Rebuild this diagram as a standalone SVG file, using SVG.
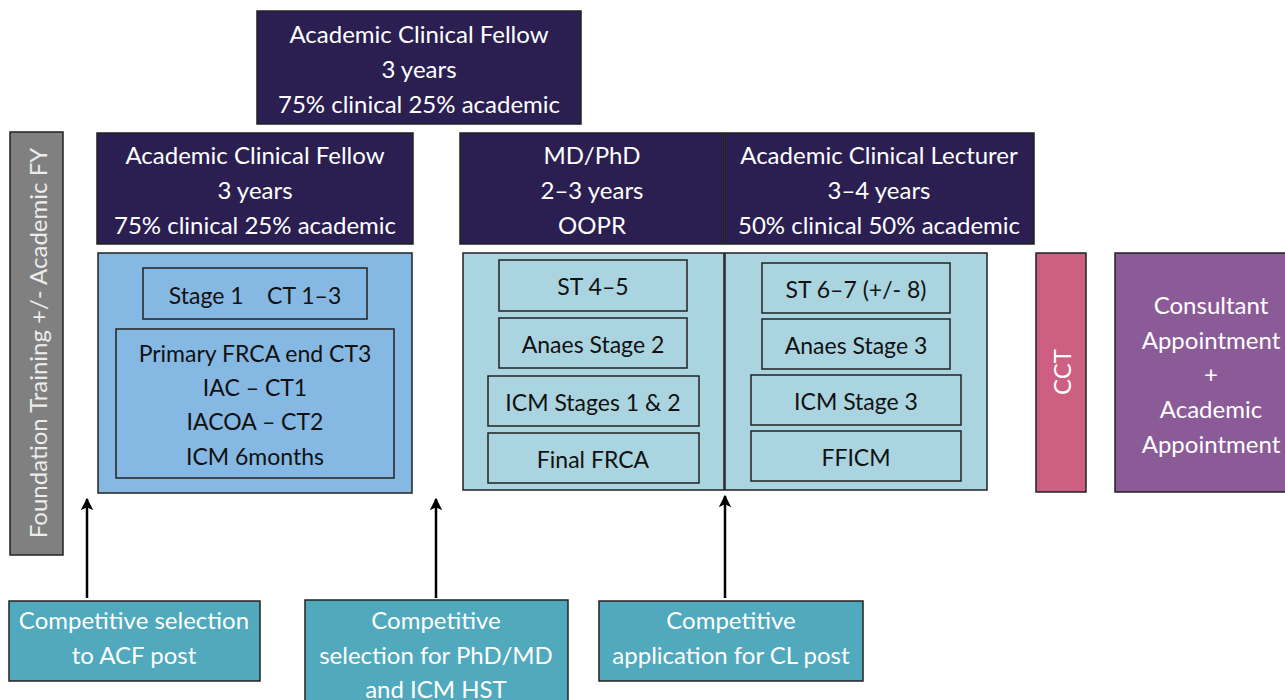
<svg xmlns="http://www.w3.org/2000/svg" width="1285" height="700" viewBox="0 0 1285 700">
<defs>
<style>
.b{stroke:#222;stroke-width:1.5}
.navy{fill:#2b1f52}
.lb{fill:#85b8e3}
.pt{fill:#a9d4e0}
.grey{fill:#808080}
.pink{fill:#cd5f82}
.purple{fill:#8b5b98}
.teal{fill:#50a9bd}
text{font-family:Lato,"Open Sans","Liberation Sans",sans-serif;text-anchor:middle;dominant-baseline:central}
.w{fill:#fff;font-size:24px}
.k{fill:#111;font-size:23px}
.v{fill:#ececec;font-size:24px}
.c{stroke:#000;stroke-width:2.5;fill:none}
</style>
<marker id="ah" viewBox="0 0 10 10" refX="9" refY="5" markerWidth="5" markerHeight="5" orient="auto" markerUnits="strokeWidth">
<path d="M0,0 L10,5 L0,10 L2.5,5 Z" fill="#000"/>
</marker>
</defs>

<g id="acf-top">
<rect class="b navy" x="257" y="11" width="324" height="113"/>
<text class="w" x="419" y="33">Academic Clinical Fellow</text>
<text class="w" x="419" y="68">3 years</text>
<text class="w" x="419" y="103">75% clinical 25% academic</text>
</g>

<g id="foundation">
<rect class="b grey" x="10" y="132" width="53" height="423"/>
<text class="v" transform="translate(37,343) rotate(-90)">Foundation Training +/- Academic FY</text>
</g>

<g id="acf">
<rect class="b navy" x="97" y="133" width="316" height="111"/>
<text class="w" x="255" y="154">Academic Clinical Fellow</text>
<text class="w" x="255" y="189">3 years</text>
<text class="w" x="255" y="224">75% clinical 25% academic</text>
</g>

<g id="mdphd">
<rect class="b navy" x="460" y="133" width="264" height="111"/>
<text class="w" x="592" y="154">MD/PhD</text>
<text class="w" x="592" y="189">2–3 years</text>
<text class="w" x="592" y="224">OOPR</text>
</g>

<g id="acl">
<rect class="b navy" x="725" y="133" width="309" height="111"/>
<text class="w" x="879" y="154">Academic Clinical Lecturer</text>
<text class="w" x="879" y="189">3–4 years</text>
<text class="w" x="879" y="224">50% clinical 50% academic</text>
</g>

<g id="stage1-block">
<rect class="b lb" x="98" y="253" width="314" height="240"/>
<rect class="b lb" x="143" y="268" width="224" height="51"/>
<text class="k" x="255" y="295" xml:space="preserve">Stage 1    CT 1–3</text>
<rect class="b lb" x="116" y="329" width="278" height="149"/>
<text class="k" x="255" y="353">Primary FRCA end CT3</text>
<text class="k" x="255" y="387">IAC – CT1</text>
<text class="k" x="255" y="421">IACOA – CT2</text>
<text class="k" x="255" y="456">ICM 6months</text>
</g>

<g id="stage2-block">
<rect class="b pt" x="463" y="253" width="261" height="237"/>
<rect class="b pt" x="499" y="260" width="188" height="51"/>
<text class="k" x="593" y="286">ST 4–5</text>
<rect class="b pt" x="499" y="318" width="188" height="50"/>
<text class="k" x="593" y="344">Anaes Stage 2</text>
<rect class="b pt" x="488" y="376" width="211" height="50"/>
<text class="k" x="593" y="402">ICM Stages 1 &amp; 2</text>
<rect class="b pt" x="488" y="433" width="211" height="50"/>
<text class="k" x="593" y="459">Final FRCA</text>
</g>

<g id="stage3-block">
<rect class="b pt" x="725" y="253" width="262" height="237"/>
<rect class="b pt" x="762" y="263" width="188" height="50"/>
<text class="k" x="856" y="289">ST 6–7 (+/- 8)</text>
<rect class="b pt" x="762" y="319" width="188" height="50"/>
<text class="k" x="856" y="345">Anaes Stage 3</text>
<rect class="b pt" x="751" y="375" width="210" height="50"/>
<text class="k" x="856" y="401">ICM Stage 3</text>
<rect class="b pt" x="751" y="431" width="210" height="50"/>
<text class="k" x="856" y="457">FFICM</text>
</g>

<g id="cct">
<rect class="b pink" x="1036" y="253" width="50" height="239"/>
<text class="w" transform="translate(1061,372) rotate(-90)">CCT</text>
</g>

<g id="consultant">
<rect class="b purple" x="1115" y="253" width="175" height="239"/>
<text class="w" x="1211" y="304">Consultant</text>
<text class="w" x="1211" y="339">Appointment</text>
<text class="w" x="1211" y="373">+</text>
<text class="w" x="1211" y="408">Academic</text>
<text class="w" x="1211" y="443">Appointment</text>
</g>

<g id="sel-acf">
<rect class="b teal" x="9" y="601" width="251" height="80"/>
<text class="w" x="134" y="619">Competitive selection</text>
<text class="w" x="134" y="654">to ACF post</text>
</g>

<g id="sel-phd">
<rect class="b teal" x="305" y="600" width="263" height="110"/>
<text class="w" x="436" y="619">Competitive</text>
<text class="w" x="436" y="654">selection for PhD/MD</text>
<text class="w" x="436" y="688">and ICM HST</text>
</g>

<g id="sel-cl">
<rect class="b teal" x="599" y="601" width="264" height="80"/>
<text class="w" x="731" y="619">Competitive</text>
<text class="w" x="731" y="654">application for CL post</text>
</g>

<g id="connectors">
<line class="c" x1="87" y1="598" x2="87" y2="499" marker-end="url(#ah)"/>
<line class="c" x1="436" y1="598" x2="436" y2="499" marker-end="url(#ah)"/>
<line class="c" x1="725" y1="598" x2="725" y2="496" marker-end="url(#ah)"/>
</g>
</svg>
